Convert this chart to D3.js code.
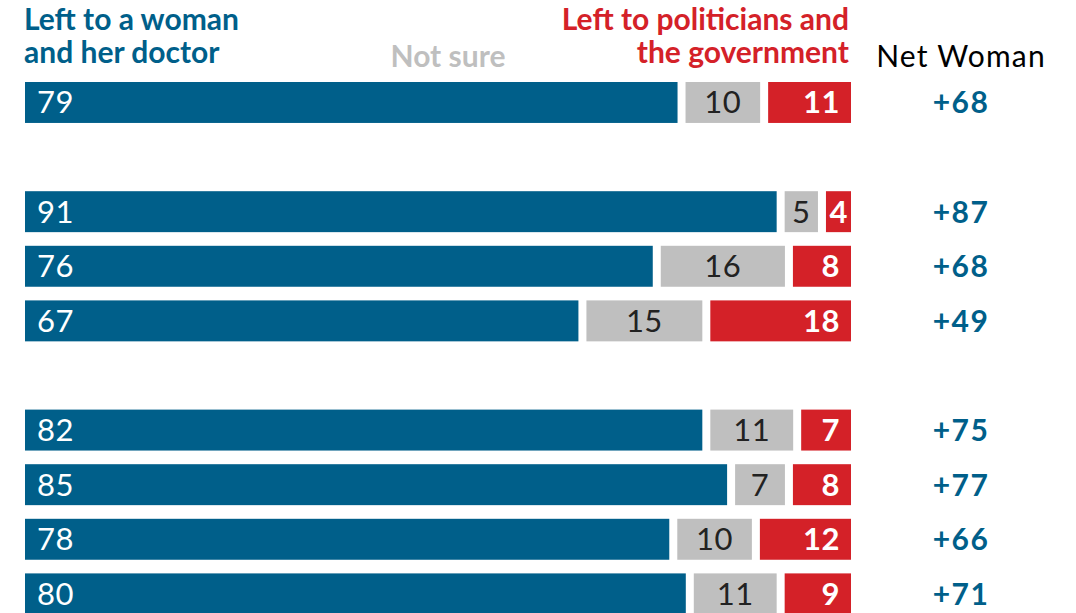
<!DOCTYPE html>
<html><head><meta charset="utf-8">
<script src="https://cdn.jsdelivr.net/npm/d3@7"></script>
<style>
html,body{margin:0;padding:0;background:#fff;}
svg{display:block;font-family:Lato,"Open Sans",sans-serif;}
</style></head>
<body>
<svg id="chart" width="1076" height="613"></svg>
<script>
// Data
const rowSlots   = [0, 2, 3, 4, 6, 7, 8, 9];          // vertical slot of each row (gaps between groups)
const womanDoctor = [79, 91, 76, 67, 82, 85, 78, 80];
const notSure     = [10, 5, 16, 15, 11, 7, 10, 11];
const government  = [11, 4, 8, 18, 7, 8, 12, 9];
const netWoman    = ["+68", "+87", "+68", "+49", "+75", "+77", "+66", "+71"];
const seriesNames = ["Left to a woman and her doctor", "Not sure", "Left to politicians and the government"];

const colors = {blue:"#005f8a", grey:"#bfbfbf", red:"#d42128"};
const svg = d3.select("#chart");

const x = d3.scaleLinear().domain([0, 100]).range([25, 851]);
const y = d3.scaleBand().domain(d3.range(10)).range([82, 82 + 54.6 * 9.75]).paddingInner(0.25).paddingOuter(0);
const gap = 8;

const rows = rowSlots.map((s, i) => ({slot: s, vals: [womanDoctor[i], notSure[i], government[i]], net: netWoman[i]}));

// Headers
const h = svg.append("g");
function hdr(xp, yp, anchor, fill, txt, weight, size, ls) {
  h.append("text").attr("x", xp).attr("y", yp).attr("text-anchor", anchor).attr("fill", fill)
    .attr("font-size", size).attr("font-weight", weight).attr("letter-spacing", ls).text(txt);
}
hdr(24, 30, "start", colors.blue, "Left to a woman", 700, 30, 0);
hdr(24, 63, "start", colors.blue, "and her doctor", 700, 30, 0);
hdr(448, 67, "middle", colors.grey, "Not sure", 700, 30, 0);
hdr(849, 30, "end", colors.red, "Left to politicians and", 700, 30, 0);
hdr(849, 63, "end", colors.red, "the government", 700, 30, 0);
hdr(961, 67, "middle", "#000", "Net Woman", 400, 30, 1.2);

const segColors = [colors.blue, colors.grey, colors.red];

const g = svg.append("g").selectAll("g.row").data(rows).join("g").attr("class", "row");

g.each(function(d) {
  const row = d3.select(this);
  let cum = 0;
  d.vals.forEach((v, i) => {
    const x0 = x(cum) + (i > 0 ? gap : 0);
    const x1 = x(cum + v);
    cum += v;
    row.append("rect")
      .attr("x", x0).attr("y", y(d.slot))
      .attr("width", Math.max(0, x1 - x0)).attr("height", y.bandwidth())
      .attr("fill", segColors[i]);
    const ty = y(d.slot) + y.bandwidth() / 2 + 11;
    const t = row.append("text").attr("y", ty).attr("font-size", 31).text(v);
    if (i === 0) t.attr("x", x0 + 12).attr("fill", "#fff").attr("letter-spacing", 0.5);
    else if (i === 1) t.attr("x", (x0 + x1) / 2).attr("text-anchor", "middle").attr("fill", "#222").attr("letter-spacing", 0.5);
    else {
      t.attr("fill", "#fff").attr("font-weight", 700).attr("letter-spacing", 0.5);
      if (x1 - x0 < 40) t.attr("x", (x0 + x1) / 2).attr("text-anchor", "middle").attr("letter-spacing", 0);
      else t.attr("x", x1 - 11).attr("text-anchor", "end");
    }
  });
  row.append("text").attr("x", 961).attr("y", y(d.slot) + y.bandwidth() / 2 + 11)
    .attr("text-anchor", "middle").attr("fill", colors.blue).attr("font-size", 30).attr("font-weight", 700)
    .attr("letter-spacing", 1.5)
    .text(d.net);
});
</script>
</body></html>
